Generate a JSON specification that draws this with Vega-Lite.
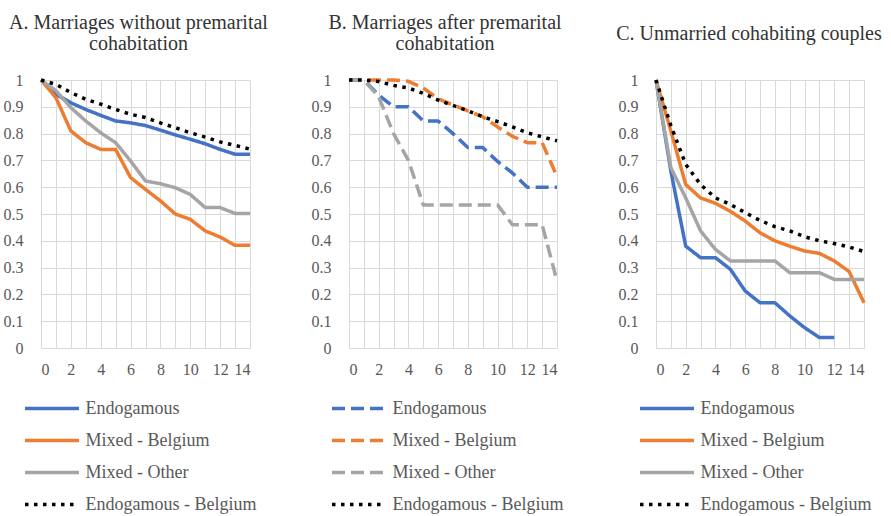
{
  "$schema": "https://vega.github.io/schema/vega-lite/v6.json",
  "background": "white",
  "padding": {"left": 3, "top": 13, "right": 0, "bottom": 0},
  "bounds": "flush",
  "spacing": 99,
  "config": {
    "view": {"stroke": null},
    "font": "Times New Roman",
    "style": {"guide-label": {"font": "Times New Roman"}},
    "axis": {
      "grid": true, "gridColor": "#d9d9d9", "gridWidth": 1,
      "domain": false, "ticks": false,
      "labelFont": "Times New Roman", "labelFontSize": 16, "labelColor": "#595959"
    },
    "axisX": {"labelPadding": 13, "labelFont": "Times New Roman"},
    "axisY": {"labelPadding": 18, "labelFont": "Times New Roman"},
    "axisQuantitative": {"labelFont": "Times New Roman"},
    "title": {"font": "Times New Roman", "fontSize": 20, "fontWeight": "normal", "color": "#333333", "lineHeight": 21, "anchor": "middle"},
    "legend": {
      "orient": "none", "direction": "vertical", "padding": 0,
      "symbolType": "M-2,0H2", "symbolSize": 729, "symbolStrokeWidth": 3.5,
      "labelFont": "Times New Roman", "labelFontSize": 18, "labelColor": "#595959",
      "labelLimit": 300, "labelOffset": 18, "rowPadding": 7
    }
  },
  "datasets": {
    "A": [
      {"t":0,"v":1,"g":"Endogamous"},{"t":1,"v":0.947,"g":"Endogamous"},{"t":2,"v":0.915,"g":"Endogamous"},{"t":3,"v":0.89,"g":"Endogamous"},{"t":4,"v":0.868,"g":"Endogamous"},{"t":5,"v":0.847,"g":"Endogamous"},{"t":6,"v":0.84,"g":"Endogamous"},{"t":7,"v":0.83,"g":"Endogamous"},{"t":8,"v":0.813,"g":"Endogamous"},{"t":9,"v":0.795,"g":"Endogamous"},{"t":10,"v":0.779,"g":"Endogamous"},{"t":11,"v":0.762,"g":"Endogamous"},{"t":12,"v":0.741,"g":"Endogamous"},{"t":13,"v":0.723,"g":"Endogamous"},{"t":14,"v":0.723,"g":"Endogamous"},
      {"t":0,"v":1,"g":"Mixed - Belgium"},{"t":1,"v":0.934,"g":"Mixed - Belgium"},{"t":2,"v":0.81,"g":"Mixed - Belgium"},{"t":3,"v":0.766,"g":"Mixed - Belgium"},{"t":4,"v":0.741,"g":"Mixed - Belgium"},{"t":5,"v":0.741,"g":"Mixed - Belgium"},{"t":6,"v":0.636,"g":"Mixed - Belgium"},{"t":7,"v":0.592,"g":"Mixed - Belgium"},{"t":8,"v":0.549,"g":"Mixed - Belgium"},{"t":9,"v":0.5,"g":"Mixed - Belgium"},{"t":10,"v":0.48,"g":"Mixed - Belgium"},{"t":11,"v":0.437,"g":"Mixed - Belgium"},{"t":12,"v":0.414,"g":"Mixed - Belgium"},{"t":13,"v":0.383,"g":"Mixed - Belgium"},{"t":14,"v":0.383,"g":"Mixed - Belgium"},
      {"t":0,"v":1,"g":"Mixed - Other"},{"t":1,"v":0.96,"g":"Mixed - Other"},{"t":2,"v":0.897,"g":"Mixed - Other"},{"t":3,"v":0.847,"g":"Mixed - Other"},{"t":4,"v":0.803,"g":"Mixed - Other"},{"t":5,"v":0.766,"g":"Mixed - Other"},{"t":6,"v":0.698,"g":"Mixed - Other"},{"t":7,"v":0.623,"g":"Mixed - Other"},{"t":8,"v":0.613,"g":"Mixed - Other"},{"t":9,"v":0.598,"g":"Mixed - Other"},{"t":10,"v":0.573,"g":"Mixed - Other"},{"t":11,"v":0.524,"g":"Mixed - Other"},{"t":12,"v":0.524,"g":"Mixed - Other"},{"t":13,"v":0.502,"g":"Mixed - Other"},{"t":14,"v":0.502,"g":"Mixed - Other"},
      {"t":0,"v":1,"g":"Endogamous - Belgium"},{"t":1,"v":0.984,"g":"Endogamous - Belgium"},{"t":2,"v":0.953,"g":"Endogamous - Belgium"},{"t":3,"v":0.928,"g":"Endogamous - Belgium"},{"t":4,"v":0.91,"g":"Endogamous - Belgium"},{"t":5,"v":0.89,"g":"Endogamous - Belgium"},{"t":6,"v":0.872,"g":"Endogamous - Belgium"},{"t":7,"v":0.86,"g":"Endogamous - Belgium"},{"t":8,"v":0.84,"g":"Endogamous - Belgium"},{"t":9,"v":0.822,"g":"Endogamous - Belgium"},{"t":10,"v":0.803,"g":"Endogamous - Belgium"},{"t":11,"v":0.787,"g":"Endogamous - Belgium"},{"t":12,"v":0.769,"g":"Endogamous - Belgium"},{"t":13,"v":0.756,"g":"Endogamous - Belgium"},{"t":14,"v":0.742,"g":"Endogamous - Belgium"}
    ],
    "B": [
      {"t":0,"v":1,"g":"Endogamous"},{"t":1,"v":1,"g":"Endogamous"},{"t":2,"v":0.944,"g":"Endogamous"},{"t":3,"v":0.9,"g":"Endogamous"},{"t":4,"v":0.9,"g":"Endogamous"},{"t":5,"v":0.847,"g":"Endogamous"},{"t":6,"v":0.847,"g":"Endogamous"},{"t":7,"v":0.8,"g":"Endogamous"},{"t":8,"v":0.748,"g":"Endogamous"},{"t":9,"v":0.748,"g":"Endogamous"},{"t":10,"v":0.696,"g":"Endogamous"},{"t":11,"v":0.653,"g":"Endogamous"},{"t":12,"v":0.6,"g":"Endogamous"},{"t":13,"v":0.6,"g":"Endogamous"},{"t":14,"v":0.6,"g":"Endogamous"},
      {"t":0,"v":1,"g":"Mixed - Belgium"},{"t":1,"v":1,"g":"Mixed - Belgium"},{"t":2,"v":1,"g":"Mixed - Belgium"},{"t":3,"v":1,"g":"Mixed - Belgium"},{"t":4,"v":0.995,"g":"Mixed - Belgium"},{"t":5,"v":0.97,"g":"Mixed - Belgium"},{"t":6,"v":0.93,"g":"Mixed - Belgium"},{"t":7,"v":0.907,"g":"Mixed - Belgium"},{"t":8,"v":0.885,"g":"Mixed - Belgium"},{"t":9,"v":0.863,"g":"Mixed - Belgium"},{"t":10,"v":0.825,"g":"Mixed - Belgium"},{"t":11,"v":0.79,"g":"Mixed - Belgium"},{"t":12,"v":0.766,"g":"Mixed - Belgium"},{"t":13,"v":0.766,"g":"Mixed - Belgium"},{"t":14,"v":0.64,"g":"Mixed - Belgium"},
      {"t":0,"v":1,"g":"Mixed - Other"},{"t":1,"v":1,"g":"Mixed - Other"},{"t":2,"v":0.937,"g":"Mixed - Other"},{"t":3,"v":0.8,"g":"Mixed - Other"},{"t":4,"v":0.7,"g":"Mixed - Other"},{"t":5,"v":0.534,"g":"Mixed - Other"},{"t":6,"v":0.534,"g":"Mixed - Other"},{"t":7,"v":0.534,"g":"Mixed - Other"},{"t":8,"v":0.534,"g":"Mixed - Other"},{"t":9,"v":0.534,"g":"Mixed - Other"},{"t":10,"v":0.534,"g":"Mixed - Other"},{"t":11,"v":0.46,"g":"Mixed - Other"},{"t":12,"v":0.46,"g":"Mixed - Other"},{"t":13,"v":0.46,"g":"Mixed - Other"},{"t":14,"v":0.25,"g":"Mixed - Other"},
      {"t":0,"v":1,"g":"Endogamous - Belgium"},{"t":1,"v":1,"g":"Endogamous - Belgium"},{"t":2,"v":0.994,"g":"Endogamous - Belgium"},{"t":3,"v":0.98,"g":"Endogamous - Belgium"},{"t":4,"v":0.97,"g":"Endogamous - Belgium"},{"t":5,"v":0.95,"g":"Endogamous - Belgium"},{"t":6,"v":0.925,"g":"Endogamous - Belgium"},{"t":7,"v":0.905,"g":"Endogamous - Belgium"},{"t":8,"v":0.885,"g":"Endogamous - Belgium"},{"t":9,"v":0.863,"g":"Endogamous - Belgium"},{"t":10,"v":0.845,"g":"Endogamous - Belgium"},{"t":11,"v":0.825,"g":"Endogamous - Belgium"},{"t":12,"v":0.803,"g":"Endogamous - Belgium"},{"t":13,"v":0.788,"g":"Endogamous - Belgium"},{"t":14,"v":0.773,"g":"Endogamous - Belgium"}
    ],
    "C": [
      {"t":0,"v":1,"g":"Endogamous"},{"t":1,"v":0.66,"g":"Endogamous"},{"t":2,"v":0.38,"g":"Endogamous"},{"t":3,"v":0.337,"g":"Endogamous"},{"t":4,"v":0.337,"g":"Endogamous"},{"t":5,"v":0.294,"g":"Endogamous"},{"t":6,"v":0.213,"g":"Endogamous"},{"t":7,"v":0.169,"g":"Endogamous"},{"t":8,"v":0.169,"g":"Endogamous"},{"t":9,"v":0.12,"g":"Endogamous"},{"t":10,"v":0.076,"g":"Endogamous"},{"t":11,"v":0.039,"g":"Endogamous"},{"t":12,"v":0.039,"g":"Endogamous"},
      {"t":0,"v":1,"g":"Mixed - Belgium"},{"t":1,"v":0.81,"g":"Mixed - Belgium"},{"t":2,"v":0.61,"g":"Mixed - Belgium"},{"t":3,"v":0.56,"g":"Mixed - Belgium"},{"t":4,"v":0.54,"g":"Mixed - Belgium"},{"t":5,"v":0.51,"g":"Mixed - Belgium"},{"t":6,"v":0.474,"g":"Mixed - Belgium"},{"t":7,"v":0.43,"g":"Mixed - Belgium"},{"t":8,"v":0.4,"g":"Mixed - Belgium"},{"t":9,"v":0.38,"g":"Mixed - Belgium"},{"t":10,"v":0.362,"g":"Mixed - Belgium"},{"t":11,"v":0.353,"g":"Mixed - Belgium"},{"t":12,"v":0.325,"g":"Mixed - Belgium"},{"t":13,"v":0.285,"g":"Mixed - Belgium"},{"t":14,"v":0.169,"g":"Mixed - Belgium"},
      {"t":0,"v":1,"g":"Mixed - Other"},{"t":1,"v":0.673,"g":"Mixed - Other"},{"t":2,"v":0.56,"g":"Mixed - Other"},{"t":3,"v":0.437,"g":"Mixed - Other"},{"t":4,"v":0.368,"g":"Mixed - Other"},{"t":5,"v":0.325,"g":"Mixed - Other"},{"t":6,"v":0.325,"g":"Mixed - Other"},{"t":7,"v":0.325,"g":"Mixed - Other"},{"t":8,"v":0.325,"g":"Mixed - Other"},{"t":9,"v":0.281,"g":"Mixed - Other"},{"t":10,"v":0.281,"g":"Mixed - Other"},{"t":11,"v":0.281,"g":"Mixed - Other"},{"t":12,"v":0.256,"g":"Mixed - Other"},{"t":13,"v":0.256,"g":"Mixed - Other"},{"t":14,"v":0.256,"g":"Mixed - Other"},
      {"t":0,"v":1,"g":"Endogamous - Belgium"},{"t":1,"v":0.83,"g":"Endogamous - Belgium"},{"t":2,"v":0.685,"g":"Endogamous - Belgium"},{"t":3,"v":0.61,"g":"Endogamous - Belgium"},{"t":4,"v":0.56,"g":"Endogamous - Belgium"},{"t":5,"v":0.536,"g":"Endogamous - Belgium"},{"t":6,"v":0.505,"g":"Endogamous - Belgium"},{"t":7,"v":0.476,"g":"Endogamous - Belgium"},{"t":8,"v":0.453,"g":"Endogamous - Belgium"},{"t":9,"v":0.437,"g":"Endogamous - Belgium"},{"t":10,"v":0.415,"g":"Endogamous - Belgium"},{"t":11,"v":0.4,"g":"Endogamous - Belgium"},{"t":12,"v":0.39,"g":"Endogamous - Belgium"},{"t":13,"v":0.377,"g":"Endogamous - Belgium"},{"t":14,"v":0.36,"g":"Endogamous - Belgium"}
    ]
  },
  "resolve": {
    "scale": {"color": "independent", "strokeDash": "independent"},
    "legend": {"color": "independent", "strokeDash": "independent"}
  },
  "hconcat": [
    {
      "width": 209, "height": 268,
      "title": {"text": ["A. Marriages without premarital", "cohabitation"], "dx": -7, "offset": 18},
      "data": {"name": "A"},
      "mark": {"type": "line", "strokeWidth": 3.5, "strokeJoin": "round"},
      "encoding": {
        "x": {"field": "t", "type": "quantitative", "title": null, "scale": {"domain": [0, 14], "nice": false},
              "axis": {"values": [0,1,2,3,4,5,6,7,8,9,10,11,12,13,14], "labelExpr": "datum.value % 2 === 0 ? datum.label : ''", "labelFont": "Times New Roman"}},
        "y": {"field": "v", "type": "quantitative", "title": null, "scale": {"domain": [0, 1], "nice": false},
              "axis": {"values": [0,0.1,0.2,0.3,0.4,0.5,0.6,0.7,0.8,0.9,1], "format": "~g", "labelFont": "Times New Roman"}},
        "color": {"field": "g", "type": "nominal", "title": null,
                  "scale": {"domain": ["Endogamous","Mixed - Belgium","Mixed - Other","Endogamous - Belgium"], "range": ["#4472C4","#ED7D31","#A5A5A5","#000000"]},
                  "legend": {"legendX": -4.5, "legendY": 313, "labelFont": "Times New Roman"}},
        "strokeDash": {"field": "g", "type": "nominal", "title": null,
                  "scale": {"domain": ["Endogamous","Mixed - Belgium","Mixed - Other","Endogamous - Belgium"], "range": [[1,0],[1,0],[1,0],[3.5,5.5]]},
                  "legend": {"legendX": -4.5, "legendY": 313, "labelFont": "Times New Roman"}}
      }
    },
    {
      "width": 208, "height": 268,
      "title": {"text": ["B. Marriages after premarital", "cohabitation"], "dx": -8, "offset": 18},
      "data": {"name": "B"},
      "mark": {"type": "line", "strokeWidth": 3.5, "strokeJoin": "round"},
      "encoding": {
        "x": {"field": "t", "type": "quantitative", "title": null, "scale": {"domain": [0, 14], "nice": false},
              "axis": {"values": [0,1,2,3,4,5,6,7,8,9,10,11,12,13,14], "labelExpr": "datum.value % 2 === 0 ? datum.label : ''", "labelFont": "Times New Roman"}},
        "y": {"field": "v", "type": "quantitative", "title": null, "scale": {"domain": [0, 1], "nice": false},
              "axis": {"values": [0,0.1,0.2,0.3,0.4,0.5,0.6,0.7,0.8,0.9,1], "format": "~g", "labelFont": "Times New Roman"}},
        "color": {"field": "g", "type": "nominal", "title": null,
                  "scale": {"domain": ["Endogamous","Mixed - Belgium","Mixed - Other","Endogamous - Belgium"], "range": ["#4472C4","#ED7D31","#A5A5A5","#000000"]},
                  "legend": {"legendX": -5.5, "legendY": 313, "labelFont": "Times New Roman"}},
        "strokeDash": {"field": "g", "type": "nominal", "title": null,
                  "scale": {"domain": ["Endogamous","Mixed - Belgium","Mixed - Other","Endogamous - Belgium"], "range": [[13,6],[13,6],[13,6],[3.5,5.5]]},
                  "legend": {"legendX": -5.5, "legendY": 313, "labelFont": "Times New Roman"}}
      }
    },
    {
      "width": 208, "height": 268,
      "title": {"text": "C. Unmarried cohabiting couples", "dx": -11, "offset": 28},
      "data": {"name": "C"},
      "mark": {"type": "line", "strokeWidth": 3.5, "strokeJoin": "round"},
      "encoding": {
        "x": {"field": "t", "type": "quantitative", "title": null, "scale": {"domain": [0, 14], "nice": false},
              "axis": {"values": [0,1,2,3,4,5,6,7,8,9,10,11,12,13,14], "labelExpr": "datum.value % 2 === 0 ? datum.label : ''", "labelFont": "Times New Roman"}},
        "y": {"field": "v", "type": "quantitative", "title": null, "scale": {"domain": [0, 1], "nice": false},
              "axis": {"values": [0,0.1,0.2,0.3,0.4,0.5,0.6,0.7,0.8,0.9,1], "format": "~g", "labelFont": "Times New Roman"}},
        "color": {"field": "g", "type": "nominal", "title": null,
                  "scale": {"domain": ["Endogamous","Mixed - Belgium","Mixed - Other","Endogamous - Belgium"], "range": ["#4472C4","#ED7D31","#A5A5A5","#000000"]},
                  "legend": {"legendX": -4.5, "legendY": 313, "labelFont": "Times New Roman"}},
        "strokeDash": {"field": "g", "type": "nominal", "title": null,
                  "scale": {"domain": ["Endogamous","Mixed - Belgium","Mixed - Other","Endogamous - Belgium"], "range": [[1,0],[1,0],[1,0],[3.5,5.5]]},
                  "legend": {"legendX": -4.5, "legendY": 313, "labelFont": "Times New Roman"}}
      }
    }
  ]
}
